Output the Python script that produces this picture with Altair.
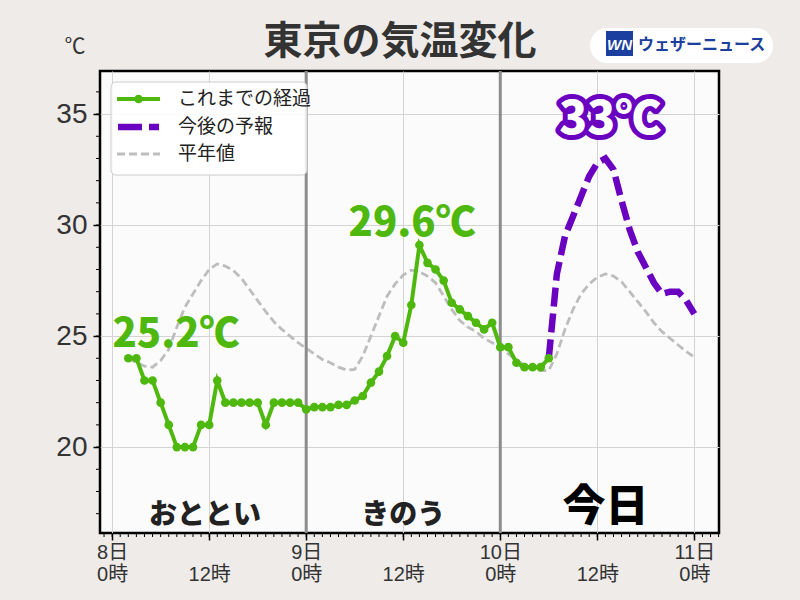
import altair as alt
import pandas as pd

# ---------------- data ----------------
obs_start_hour = 2
obs_temp = [24.0, 24.0, 23.0, 23.0, 22.0, 21.0, 20.0, 20.0, 20.0, 21.0,
            21.0, 23.0, 22.0, 22.0, 22.0, 22.0, 22.0, 21.0, 22.0, 22.0,
            22.0, 22.0, 21.7, 21.8, 21.8, 21.8, 21.9, 21.9, 22.1, 22.3,
            22.9, 23.4, 24.1, 25.0, 24.7, 26.4, 29.1, 28.3, 28.0, 27.5,
            26.5, 26.2, 25.9, 25.6, 25.3, 25.6, 24.5, 24.5, 23.8, 23.6,
            23.6, 23.6, 24.0]

fc_start_hour = 54
fc_temp = [24.0, 27.8, 29.5, 30.4, 31.3, 32.2, 32.8, 33.0, 32.5, 31.1,
           29.8, 28.8, 28.1, 27.4, 26.9, 27.0, 27.0, 26.6, 26.0]

nrm_start_hour = 2
nrm_temp = [24.0, 23.8, 23.65, 23.6, 23.9, 24.4, 25.4, 26.3, 26.9, 27.5,
            28.0, 28.25, 28.15, 27.95, 27.6, 27.1, 26.6, 26.1, 25.65, 25.3,
            25.0, 24.7, 24.45, 24.2, 23.95, 23.8, 23.6, 23.47, 23.5, 24.1,
            25.0, 25.9, 26.8, 27.35, 27.75, 27.97, 27.9, 27.7, 27.4, 26.8,
            26.2, 25.7, 25.4, 25.2, 24.9, 24.7, 24.5, 24.2, 23.9, 23.7,
            23.55, 23.45, 23.45, 24.2, 25.3, 26.2, 26.9, 27.35, 27.65, 27.8,
            27.7, 27.45, 27.0, 26.55, 26.1, 25.6, 25.2, 24.9, 24.6, 24.3,
            24.05]

day_sep_hours = [24, 48]
day_names = ["おととい", "きのう", "今日"]
day_hours = [11.5, 36, 61]
peak_labels = ["25.2℃", "29.6℃", "33℃"]
peak_hours = [7.9, 37.1, 61.6]
peak_temps = [25.05, 30.05, 34.75]
legend_labels = ["これまでの経過", "今後の予報", "平年値"]
title_text = "東京の気温変化"
unit_text = "℃"
brand_text = "ウェザーニュース"
brand_mark = "WN"

x_major = [0, 12, 24, 36, 48, 60, 72]
y_major = [20, 25, 30, 35]
x_minor = list(range(-1, 76))
y_minor = list(range(17, 37))

# ---------------- styles ----------------
FONT = "Noto Sans CJK JP"
AXFONT = "Liberation Sans, 'Noto Sans CJK JP'"
GREEN = "#4fb80f"
PURPLE = "#6a00c0"
GRAY = "#bdbdbd"
DAYLINE = "#8c8c8c"
W, H = 619, 462

obs_df = pd.DataFrame({"hour": [obs_start_hour + i for i in range(len(obs_temp))], "temp": obs_temp})
fc_df = pd.DataFrame({"hour": [fc_start_hour + i for i in range(len(fc_temp))], "temp": fc_temp})
nrm_df = pd.DataFrame({"hour": [nrm_start_hour + i for i in range(len(nrm_temp))], "temp": nrm_temp})
sep_df = pd.DataFrame({"hour": day_sep_hours})
day_df = pd.DataFrame({"hour": day_hours, "name": day_names})
peak_df = pd.DataFrame({"hour": peak_hours, "temp": peak_temps, "label": peak_labels})
xminor_df = pd.DataFrame({"hour": x_minor})
yminor_df = pd.DataFrame({"temp": y_minor})
one = pd.DataFrame({"k": [0]})

xscale = alt.Scale(domain=[-1.5, 75.05], nice=False, zero=False)
yscale = alt.Scale(domain=[16.13, 36.94], nice=False, zero=False)

xaxis = alt.Axis(
    values=x_major, grid=True, gridColor="#d4d4d4", gridWidth=1, domain=False,
    ticks=True, tickSize=7, tickWidth=1.5, tickColor="#000000",
    labelExpr="datum.value % 24 == 0 ? [toString(8 + datum.value / 24) + '日', '0時'] : ['', '12時']",
    labelFont=AXFONT, labelFontSize=20, labelLineHeight=22, labelColor="#333333",
    labelPadding=2, labelFlush=False, labelOverlap=False, title=None,
)
yaxis = alt.Axis(
    values=y_major, grid=True, gridColor="#d4d4d4", gridWidth=1, domain=False,
    ticks=True, tickSize=7, tickWidth=1.5, tickColor="#000000",
    labelFont=AXFONT, labelFontSize=28, labelColor="#333333", labelPadding=6,
    labelFlush=False, title=None,
)
X = alt.X("hour:Q", scale=xscale, axis=xaxis)
Y = alt.Y("temp:Q", scale=yscale, axis=yaxis)

normal = alt.Chart(nrm_df).mark_line(color=GRAY, strokeWidth=2.8, strokeDash=[8, 4]).encode(x=X, y=Y)
seps = alt.Chart(sep_df).mark_rule(color=DAYLINE, strokeWidth=3).encode(x=X)
fc = alt.Chart(fc_df).mark_line(color=PURPLE, strokeWidth=6.5, strokeDash=[19, 7]).encode(x=X, y=Y)
obs = alt.Chart(obs_df).mark_line(
    color=GREEN, strokeWidth=4,
    point=alt.OverlayMarkDef(filled=True, size=75, color=GREEN, opacity=1),
).encode(x=X, y=Y)

xminor = alt.Chart(xminor_df).mark_rule(color="#000000", strokeWidth=1).encode(
    x=X, y=alt.value(H), y2=alt.value(H + 4))
yminor = alt.Chart(yminor_df).mark_rule(color="#000000", strokeWidth=1).encode(
    y=Y, x=alt.value(-4), x2=alt.value(0))

day_small = alt.Chart(day_df[day_df["name"] != "今日"]).mark_text(
    font=FONT, fontSize=28, fontWeight=900, color="#222222", baseline="middle"
).encode(x=X, y=alt.value(445), text="name:N")
day_big = alt.Chart(day_df[day_df["name"] == "今日"]).mark_text(
    font=FONT, fontSize=43, fontWeight=900, color="#000000", baseline="middle"
).encode(x=X, y=alt.value(437), text="name:N")

peak_green = alt.Chart(peak_df.iloc[:2]).mark_text(
    font=FONT, fontSize=40, fontWeight=900, color=GREEN, baseline="middle"
).encode(x=X, y=Y, text="label:N")
peak_purple_outline = alt.Chart(peak_df.iloc[2:]).mark_text(
    font=FONT, fontSize=46, fontWeight=900, color=PURPLE, stroke=PURPLE, strokeWidth=10,
    strokeJoin="round", baseline="middle"
).encode(x=X, y=Y, text="label:N")
peak_purple_fill = alt.Chart(peak_df.iloc[2:]).mark_text(
    font=FONT, fontSize=46, fontWeight=900, color="#ffffff", baseline="middle"
).encode(x=X, y=Y, text="label:N")

# legend (drawn by hand)
leg_box = alt.Chart(one).mark_rect(
    fill="#ffffff", fillOpacity=0.85, stroke="#cccccc", strokeWidth=1, cornerRadius=5
).encode(x=alt.value(11), x2=alt.value(207), y=alt.value(11), y2=alt.value(104))
leg_green = alt.Chart(one).mark_rule(color=GREEN, strokeWidth=4).encode(
    x=alt.value(17), x2=alt.value(60), y=alt.value(28))
leg_green_pt = alt.Chart(one).mark_point(filled=True, size=75, color=GREEN, opacity=1).encode(
    x=alt.value(38.5), y=alt.value(28))
leg_purple = alt.Chart(one).mark_rule(color=PURPLE, strokeWidth=6.5, strokeDash=[24, 7]).encode(
    x=alt.value(18), x2=alt.value(59), y=alt.value(56))
leg_gray = alt.Chart(one).mark_rule(color=GRAY, strokeWidth=2.8, strokeDash=[8, 4]).encode(
    x=alt.value(17), x2=alt.value(60), y=alt.value(83))
leg_texts = []
for lbl, yy in zip(legend_labels, [28, 56, 83]):
    leg_texts.append(
        alt.Chart(one).mark_text(
            text=lbl, font=FONT, fontSize=19, color="#222222", align="left", baseline="middle"
        ).encode(x=alt.value(78), y=alt.value(yy))
    )

# title, unit, logo
title = alt.Chart(one).mark_text(
    text=title_text, font=FONT, fontSize=39, fontWeight="bold", color="#333333",
    baseline="middle"
).encode(x=alt.value(300), y=alt.value(-29))
unit = alt.Chart(one).mark_text(
    text=unit_text, font=FONT, fontSize=21, color="#333333", baseline="middle"
).encode(x=alt.value(-25), y=alt.value(-24))
logo_pill = alt.Chart(one).mark_rect(fill="#ffffff", cornerRadius=17).encode(
    x=alt.value(490), x2=alt.value(673), y=alt.value(-43), y2=alt.value(-8))
logo_box = alt.Chart(one).mark_rect(fill="#1a3f9e").encode(
    x=alt.value(506), x2=alt.value(533), y=alt.value(-40), y2=alt.value(-15))
logo_wn = alt.Chart(one).mark_text(
    text=brand_mark, font="Liberation Sans", fontSize=15, fontWeight="bold", fontStyle="italic",
    color="#ffffff", baseline="middle"
).encode(x=alt.value(519.5), y=alt.value(-26))
logo_text = alt.Chart(one).mark_text(
    text=brand_text, font=FONT, fontSize=16, fontWeight="bold", color="#1a3f9e",
    align="left", baseline="middle"
).encode(x=alt.value(538), y=alt.value(-26))

chart = alt.layer(
    normal, seps, fc, obs, xminor, yminor,
    day_small, day_big, peak_green, peak_purple_outline, peak_purple_fill,
    leg_box, leg_green, leg_green_pt, leg_purple, leg_gray, *leg_texts,
    title, unit, logo_pill, logo_box, logo_wn, logo_text,
).properties(
    width=W, height=H,
    padding={"left": 100, "top": 71, "right": 81, "bottom": 67},
    autosize=alt.AutoSizeParams(type="none"),
    background="#eeebe9",
).configure_view(
    fill="#fcfbfc", stroke="#000000", strokeWidth=2.5,
)

chart.save("out.html", embed_options={"renderer": "svg", "actions": False})
